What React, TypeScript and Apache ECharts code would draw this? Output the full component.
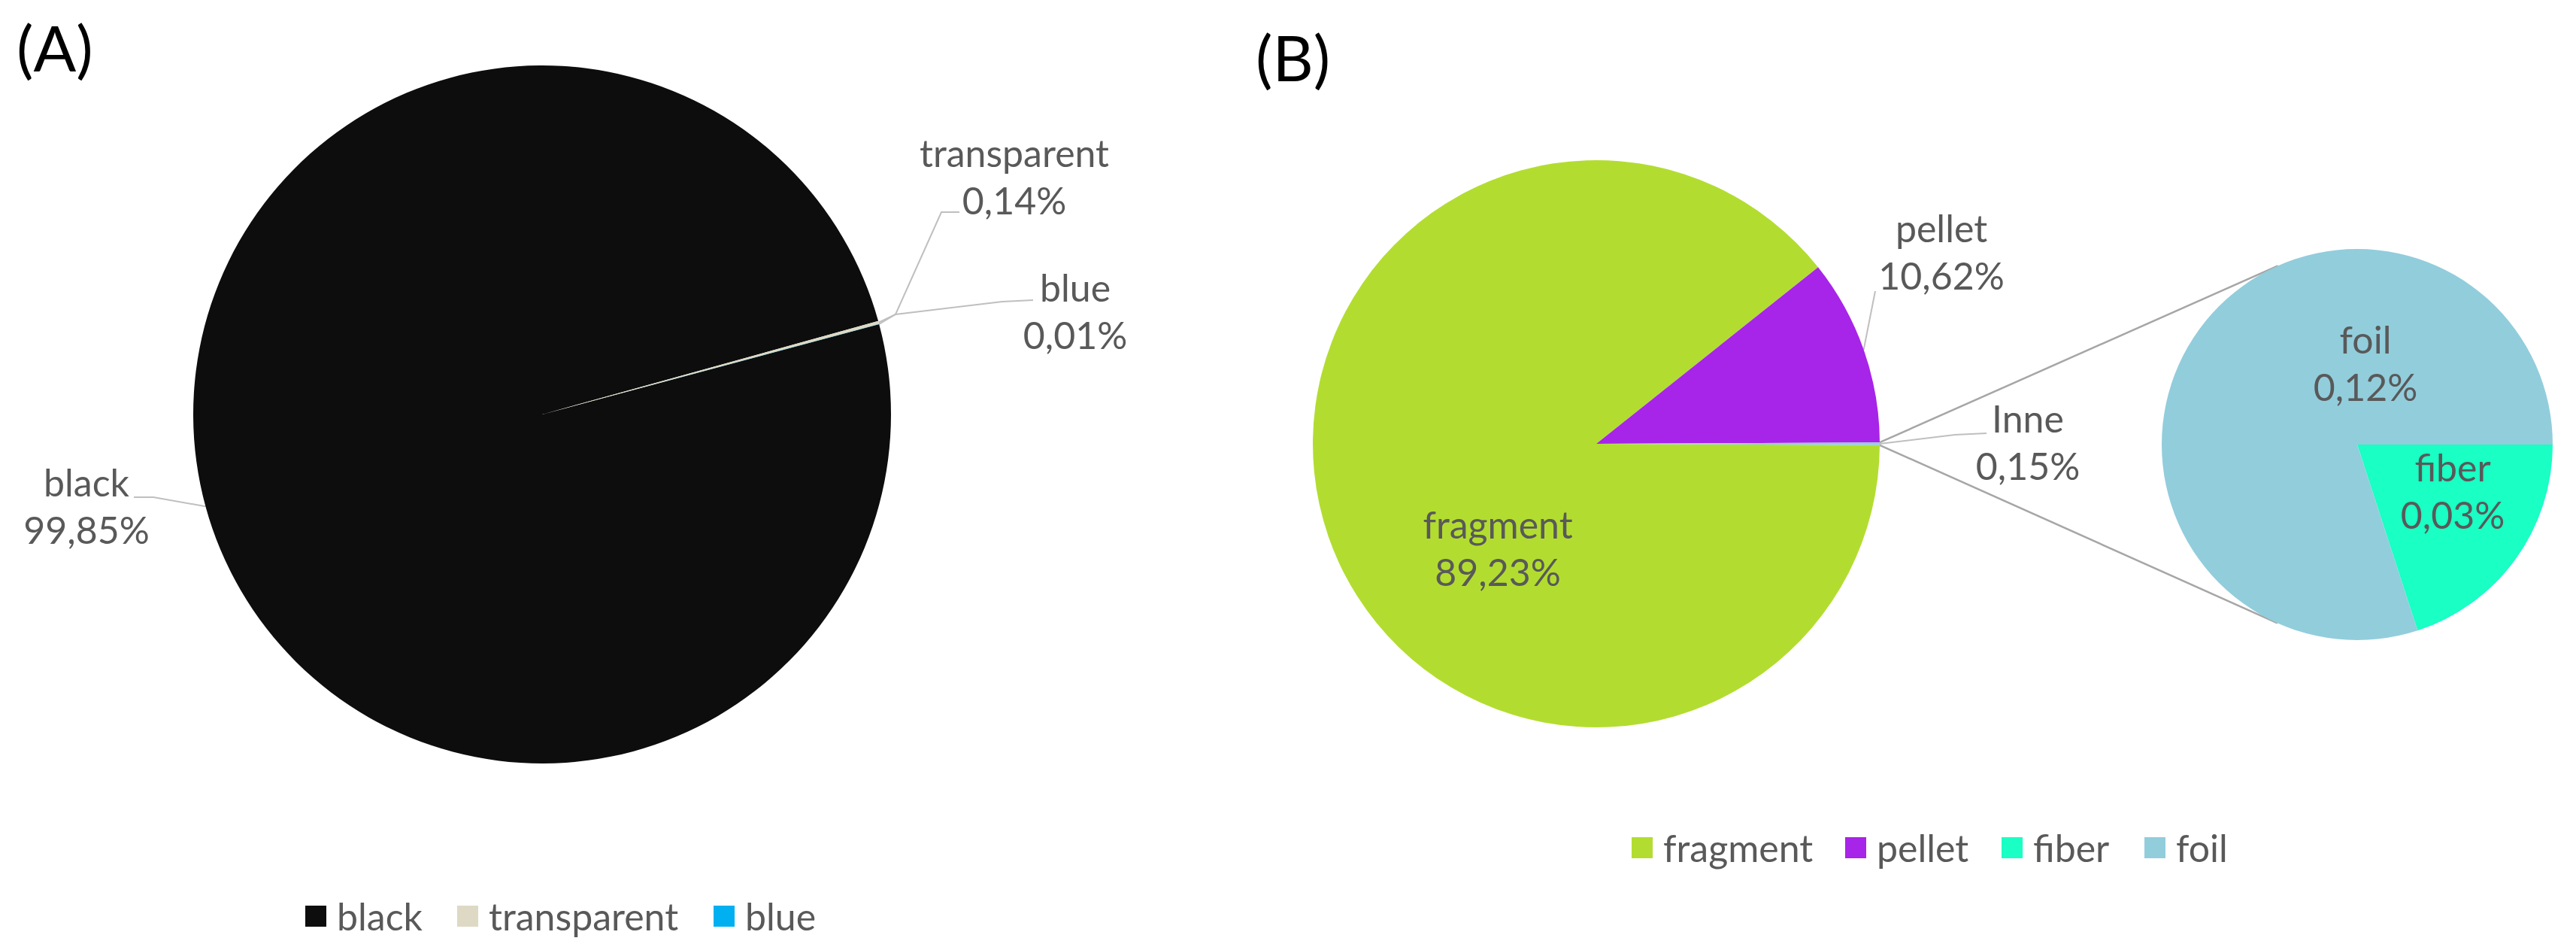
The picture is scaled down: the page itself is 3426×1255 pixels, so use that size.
import React, { useEffect, useRef } from 'react';
import * as echarts from 'echarts';

// ---------- data ----------
const colorCategories = ['black', 'transparent', 'blue'];
const colorValues = [99.85, 0.14, 0.01];
const colorPalette = ['#0D0D0D', '#DDD9C4', '#00B0F0'];

const shapeCategories = ['fragment', 'pellet', 'Inne'];
const shapeValues = [89.23, 10.62, 0.15];
const shapePalette = ['#B2DD30', '#A724E9', '#92CDDC'];

const otherCategories = ['fiber', 'foil'];
const otherValues = [0.03, 0.12];
const otherPalette = ['#19FFC4', '#92CDDC'];

const legendNamesA = ['black', 'transparent', 'blue'];
const legendNamesB = ['fragment', 'pellet', 'fiber', 'foil'];

// ---------- layout ----------
const FONT = 'Lato, "Open Sans", sans-serif';
const TEXT_COLOR = '#595959';
const PIE_A = { cx: 721, cy: 551, r: 464 };
const PIE_B = { cx: 2123, cy: 590, r: 377 };
const PIE_C = { cx: 3135, cy: 591, r: 260 };

const INSIDE = ['fragment', 'foil', 'fiber'];

const LABEL_SPOTS: Record<string, { x: number; y: number; line?: number[][] }> = {
  black: { x: 115, y: 672, line: [[204, 661], [178, 661]] },
  transparent: { x: 1349, y: 234, line: [[1191, 418], [1252, 282], [1276, 282]] },
  blue: { x: 1430, y: 413, line: [[1191, 418], [1333, 401], [1374, 399]] },
  fragment: { x: 1992, y: 728 },
  pellet: { x: 2582, y: 334, line: [[2494, 387]] },
  Inne: { x: 2697, y: 587, line: [[2600, 578], [2642, 576]] },
  foil: { x: 3146, y: 482 },
  fiber: { x: 3262, y: 652 },
};

const LEGEND_POS: Record<string, number[]> = {
  black: [406, 1193],
  transparent: [608, 1193],
  blue: [949, 1193],
  fragment: [2170, 1102],
  pellet: [2454, 1102],
  fiber: [2662, 1102],
  foil: [2852, 1102],
};

const fmt = (p: any) => `${p.name}\n${Number(p.value).toFixed(2).replace('.', ',')}%`;

const makeLayout = (cats: string[]) => (params: any) => {
  const spot = LABEL_SPOTS[cats[params.dataIndex]];
  if (!spot) return {};
  const out: any = { x: spot.x, y: spot.y, align: 'center', verticalAlign: 'middle' };
  if (spot.line && params.labelLinePoints && params.labelLinePoints.length) {
    out.labelLinePoints = [params.labelLinePoints[0], ...spot.line];
  }
  return out;
};

const buildData = (cats: string[], vals: number[], cols: string[]) =>
  cats.map((name, i) => ({
    name,
    value: vals[i],
    itemStyle: { color: cols[i] },
    labelLine: { show: !INSIDE.includes(name) },
  }));

function pieSeries(
  cats: string[],
  vals: number[],
  cols: string[],
  geo: { cx: number; cy: number; r: number },
  startAngle: number
) {
  return {
    type: 'pie',
    center: [geo.cx, geo.cy],
    radius: geo.r,
    startAngle,
    clockwise: true,
    avoidLabelOverlap: false,
    data: buildData(cats, vals, cols),
    itemStyle: { borderWidth: 0 },
    emphasis: { disabled: true },
    label: {
      show: true,
      position: 'outside',
      formatter: fmt,
      fontFamily: FONT,
      fontSize: 50,
      lineHeight: 63,
      color: TEXT_COLOR,
    },
    labelLine: {
      show: true,
      length: 15,
      length2: 15,
      smooth: false,
      lineStyle: { color: '#BFBFBF', width: 2 },
    },
    labelLayout: makeLayout(cats),
  };
}

function tangentPoint(px: number, py: number, c: { cx: number; cy: number; r: number }, sign: number) {
  const dx = px - c.cx;
  const dy = py - c.cy;
  const d = Math.sqrt(dx * dx + dy * dy);
  const phi = Math.atan2(dy, dx);
  const theta = Math.acos(c.r / d);
  const a = phi + sign * theta;
  return [c.cx + c.r * Math.cos(a), c.cy + c.r * Math.sin(a)];
}

export default function App() {
  const ref = useRef<HTMLDivElement>(null);

  useEffect(() => {
    if (!ref.current) return;
    const chart = echarts.init(ref.current, undefined, { renderer: 'svg' });

    const totalB = shapeValues.reduce((s, v) => s + v, 0);
    const inneIdx = shapeCategories.indexOf('Inne');
    const inneHalf = ((shapeValues[inneIdx] / totalB) * 360) / 2;
    const startB = -inneHalf;

    const rad = (inneHalf * Math.PI) / 180;
    const pUp = [PIE_B.cx + PIE_B.r * Math.cos(rad), PIE_B.cy - PIE_B.r * Math.sin(rad)];
    const pDn = [PIE_B.cx + PIE_B.r * Math.cos(rad), PIE_B.cy + PIE_B.r * Math.sin(rad)];
    const tUp = tangentPoint(pUp[0], pUp[1], PIE_C, 1);
    const tA = tangentPoint(pUp[0], pUp[1], PIE_C, -1);
    const upper = tUp[1] < tA[1] ? tUp : tA;
    const tDn = tangentPoint(pDn[0], pDn[1], PIE_C, -1);
    const tB = tangentPoint(pDn[0], pDn[1], PIE_C, 1);
    const lower = tDn[1] > tB[1] ? tDn : tB;

    const legends = Object.keys(LEGEND_POS).map((name) => ({
      data: [name],
      left: LEGEND_POS[name][0],
      top: LEGEND_POS[name][1],
      padding: 0,
      itemWidth: 28,
      itemHeight: 28,
      icon: 'rect',
      selectedMode: false,
      textStyle: {
        fontFamily: FONT,
        fontSize: 50,
        color: TEXT_COLOR,
        lineHeight: 28,
        padding: [0, 0, 0, 9],
      },
    }));

    chart.setOption({
      animation: false,
      backgroundColor: '#ffffff',
      title: [
        {
          text: '(A)',
          left: 22,
          top: 20,
          padding: 0,
          textStyle: { fontFamily: FONT, fontSize: 84, fontWeight: 'normal', color: '#000000' },
        },
        {
          text: '(B)',
          left: 1670,
          top: 33,
          padding: 0,
          textStyle: { fontFamily: FONT, fontSize: 84, fontWeight: 'normal', color: '#000000' },
        },
      ],
      legend: legends,
      graphic: [
        {
          type: 'line',
          shape: { x1: pUp[0], y1: pUp[1], x2: upper[0], y2: upper[1] },
          style: { stroke: '#A6A6A6', lineWidth: 2.5 },
          silent: true,
        },
        {
          type: 'line',
          shape: { x1: pDn[0], y1: pDn[1], x2: lower[0], y2: lower[1] },
          style: { stroke: '#A6A6A6', lineWidth: 2.5 },
          silent: true,
        },
      ],
      series: [
        pieSeries(colorCategories, colorValues, colorPalette, PIE_A, 15),
        pieSeries(shapeCategories, shapeValues, shapePalette, PIE_B, startB),
        pieSeries(otherCategories, otherValues, otherPalette, PIE_C, 0),
      ],
    });

    return () => {
      chart.dispose();
    };
  }, []);

  return (
    <div
      ref={ref}
      style={{ position: 'fixed', left: 0, top: 0, width: 3426, height: 1255, background: '#fff' }}
    />
  );
}
